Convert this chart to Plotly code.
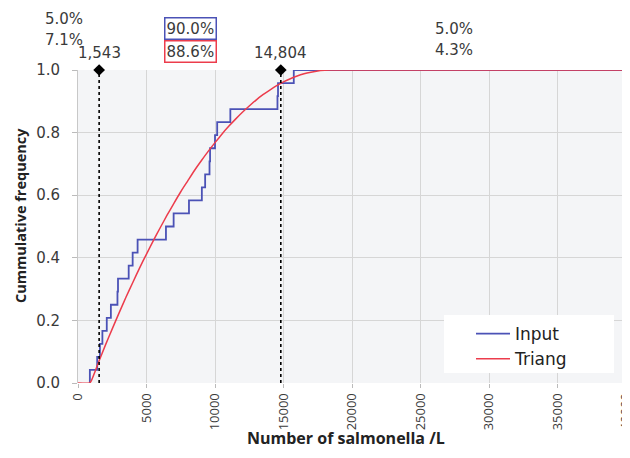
import plotly.graph_objects as go

# Empirical input data (sorted sample values, 24 points) -> cumulative steps
input_x = [866, 1400, 1600, 1780, 2100, 2400, 2880, 2920, 3700, 3990, 4350,
           6420, 6980, 8100, 9040, 9280, 9600, 9640, 10000, 10160, 11120,
           14560, 14600, 15750]
input_y = [(i + 1) / 24 for i in range(len(input_x))]

# Fitted Triang cumulative curve
triang_x = [0, 850, 968, 1500, 2000, 2500, 3000, 3500, 4000, 4500, 5000, 5500,
            6000, 6500, 7000, 7500, 8000, 8500, 9000, 9500, 10000, 10500,
            11000, 11500, 12000, 12500, 13000, 13500, 14000, 14500, 15000,
            15500, 16000, 16500, 17000, 17500, 18000, 18440, 40000]
triang_y = [0, 0, 0.007, 0.066, 0.121, 0.173, 0.224, 0.274, 0.321, 0.368,
            0.412, 0.455, 0.496, 0.536, 0.574, 0.611, 0.645, 0.679, 0.710,
            0.740, 0.768, 0.795, 0.820, 0.843, 0.865, 0.885, 0.904, 0.921,
            0.936, 0.950, 0.962, 0.972, 0.981, 0.988, 0.993, 0.997, 0.999,
            1.0, 1.0]

marker_x = [1543, 14804]
marker_labels = ["1,543", "14,804"]

left_pct = ["5.0%", "7.1%"]
mid_pct = ["90.0%", "88.6%"]
right_pct = ["5.0%", "4.3%"]

x_ticks = list(range(0, 40001, 5000))
y_ticks = [0.0, 0.2, 0.4, 0.6, 0.8, 1.0]

x_title = "Number of salmonella /L"
y_title = "Cummulative frequency"

BLUE = "#4b52b6"
RED = "#ec3c4c"
TXT = "#3a3a3a"
FONT = "DejaVu Sans"

OFF = 8  # page body margin
W, H = 622, 450
ML, MR, MT, MB = 70, 4, 62, 75
PW, PH = W - ML - MR, H - MT - MB


def px_x(wx):
    return (wx - OFF - ML) / PW


def px_y(wy):
    return 1 - (wy - OFF - MT) / PH


fig = go.Figure()

# Input step
fig.add_trace(go.Scatter(
    x=[input_x[0]] + input_x + [40000],
    y=[0] + input_y + [input_y[-1]],
    mode="lines", line=dict(color=BLUE, width=1.8, shape="hv"),
    name="Input"))

# Triang curve
fig.add_trace(go.Scatter(
    x=triang_x, y=triang_y, mode="lines",
    line=dict(color=RED, width=1.5, shape="spline", smoothing=0.6),
    name="Triang"))

# Dashed marker lines
for mx in marker_x:
    fig.add_trace(go.Scatter(
        x=[mx, mx], y=[0, 1], mode="lines",
        line=dict(color="black", width=1.6, dash="dot"),
        showlegend=False, hoverinfo="skip"))
    fig.add_trace(go.Scatter(
        x=[mx], y=[1], mode="markers",
        marker=dict(symbol="diamond", size=9, color="black"),
        showlegend=False, hoverinfo="skip", cliponaxis=False))

annotations = []
for mx, lab in zip(marker_x, marker_labels):
    annotations.append(dict(x=mx, y=1, xref="x", yref="y", text=lab,
                            showarrow=False, xanchor="center", yanchor="bottom",
                            yshift=6, font=dict(family=FONT, size=15, color=TXT)))


def pct(wx, wy, text, border=None):
    d = dict(x=px_x(wx), y=px_y(wy), xref="paper", yref="paper",
             xanchor="center", yanchor="middle",
             text=text, showarrow=False,
             font=dict(family=FONT, size=15, color=TXT))
    if border:
        d.update(bordercolor=border, borderwidth=1.5, borderpad=1)
    return d


annotations.append(pct(64, 19, left_pct[0]))
annotations.append(pct(64, 40, left_pct[1]))
annotations.append(pct(190.5, 28.5, mid_pct[0], BLUE))
annotations.append(pct(190.5, 51, mid_pct[1], RED))
annotations.append(pct(454, 29, right_pct[0]))
annotations.append(pct(454, 50, right_pct[1]))

# axis titles
annotations.append(dict(x=px_x(346), y=px_y(438), xref="paper", yref="paper",
                        xanchor="center", yanchor="middle", showarrow=False,
                        text=f"<b>{x_title}</b>",
                        font=dict(family="Open Sans", size=16, color="#222")))
annotations.append(dict(x=px_x(20), y=px_y(216), xref="paper", yref="paper",
                        xanchor="center", yanchor="middle", showarrow=False,
                        textangle=-90, text=f"<b>{y_title}</b>",
                        font=dict(family="Open Sans", size=14.5, color="#222")))

# white legend box
shapes = [dict(type="rect", xref="paper", yref="paper",
               x0=px_x(444), x1=px_x(614), y0=px_y(373), y1=px_y(315),
               fillcolor="white", line=dict(width=0), layer="above")]

fig.update_layout(
    width=W, height=H,
    margin=dict(l=ML, r=MR, t=MT, b=MB, autoexpand=False),
    paper_bgcolor="white", plot_bgcolor="#f4f5f7",
    showlegend=True,
    legend=dict(x=px_x(471), y=px_y(316), xanchor="left", yanchor="top",
                bgcolor="rgba(0,0,0,0)", font=dict(family=FONT, size=17, color="#222"),
                itemwidth=34, tracegroupgap=0),
    annotations=annotations,
    shapes=shapes,
    font=dict(family=FONT, color=TXT),
)

fig.update_xaxes(range=[0, 40000], tickvals=x_ticks,
                 ticktext=[str(v) for v in x_ticks], tickangle=-90,
                 automargin=False, ticklabeloverflow="allow",
                 showgrid=True, gridcolor="#d6d6d6", gridwidth=1,
                 zeroline=False, showline=False,
                 ticks="outside", ticklen=4, tickcolor="#bbbbbb",
                 tickfont=dict(family="Open Sans", size=13, color=TXT))
fig.update_yaxes(range=[0, 1], tickvals=y_ticks,
                 ticktext=[f"{v:.1f}" for v in y_ticks],
                 automargin=False, ticklabelstandoff=9,
                 showgrid=True, gridcolor="#d6d6d6", gridwidth=1,
                 zeroline=False, showline=True, linecolor="#c8c8c8",
                 ticks="outside", ticklen=5, tickcolor="#bbbbbb",
                 tickfont=dict(family=FONT, size=15, color=TXT))

fig.write_html("out.html")
